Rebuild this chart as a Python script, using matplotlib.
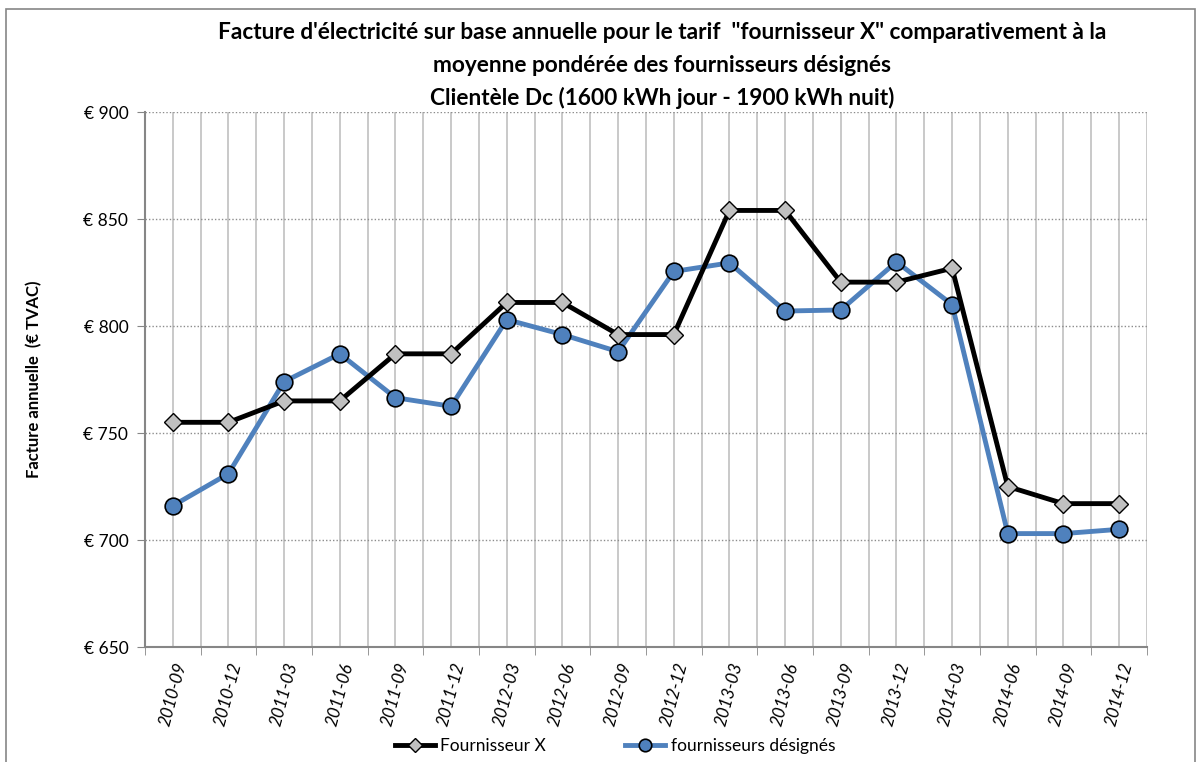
import numpy as np
import matplotlib.pyplot as plt
from matplotlib.patches import Rectangle

periodes = ["2010-09", "2010-12", "2011-03", "2011-06", "2011-09", "2011-12",
            "2012-03", "2012-06", "2012-09", "2012-12", "2013-03", "2013-06",
            "2013-09", "2013-12", "2014-03", "2014-06", "2014-09", "2014-12"]
fournisseur_x = [755, 755, 765, 765, 787, 787, 811, 811, 796, 796,
                 854, 854, 820.5, 820.5, 827, 725, 717, 717]
designes = [716, 731, 774, 787, 766.5, 762.5, 803, 796, 788, 825.5,
            829.5, 807, 807.5, 830, 810, 703, 703, 705]

plt.rcParams["font.family"] = ["Lato", "DejaVu Sans"]

fig = plt.figure(figsize=(12.01, 7.62), dpi=100)
ax = fig.add_axes([0.1207, 0.1509, 0.8343, 0.7021])

x = np.arange(len(periodes))
ax.plot(x, fournisseur_x, color="black", lw=3.5, marker="D", ms=9,
        mfc="#c0c0c0", mec="black", mew=1, label="Fournisseur X", zorder=4)
ax.plot(x, designes, color="#4f81bd", lw=3.5, marker="o", ms=12,
        mfc="#4f81bd", mec="black", mew=1.2, label="fournisseurs désignés", zorder=3)

ax.set_xlim(-0.5, len(periodes) - 0.5)
ax.set_ylim(650, 900)
ax.set_yticks([650, 700, 750, 800, 850, 900])
ax.set_yticklabels(["€ %d" % v for v in [650, 700, 750, 800, 850, 900]], fontsize=12.5)

# vertical grid at categories and boundaries
for v in np.arange(-0.5, len(periodes), 0.5):
    ax.axvline(v, color="#c0c0c0", lw=1.2, zorder=1)
for v in [700, 750, 800, 850, 900]:
    ax.axhline(v, color="#8c8c8c", lw=1, ls=(0, (1, 1.5)), zorder=1)

ax.set_xticks(x)
ax.set_xticklabels(periodes, rotation=75, fontsize=12.3, style="italic",
                   ha="center", va="top")
ax.tick_params(axis="x", length=0, pad=10)
ax.set_xticks(np.arange(-0.5, len(periodes), 1), minor=True)
ax.tick_params(axis="x", which="minor", length=6, color="#868686")
ax.tick_params(axis="y", length=6, color="#868686", pad=6)

for s in ["top", "right"]:
    ax.spines[s].set_visible(False)
for s in ["left", "bottom"]:
    ax.spines[s].set_color("#868686")
    ax.spines[s].set_linewidth(1.5)

ax.set_ylabel("Facture annuelle  (€ TVAC)", fontsize=12, fontweight="bold")
ax.yaxis.set_label_coords(-0.102, 0.5)

fig.text(0.551, 0.958, "Facture d'électricité sur base annuelle pour le tarif  \"fournisseur X\" comparativement à la",
         ha="center", va="center", fontsize=16.3, fontweight="bold")
fig.text(0.551, 0.914, "moyenne pondérée des fournisseurs désignés",
         ha="center", va="center", fontsize=16.3, fontweight="bold")
fig.text(0.551, 0.871, "Clientèle Dc (1600 kWh jour - 1900 kWh nuit)",
         ha="center", va="center", fontsize=16.3, fontweight="bold")

fig.legend(loc="center", bbox_to_anchor=(0.512, 0.021), ncol=2, frameon=False,
           fontsize=12.5, handlelength=2.3, handletextpad=0.3, columnspacing=4.6,
           markerscale=0.75)

fig.patches.append(Rectangle((0.005, -0.01), 0.99, 0.998, transform=fig.transFigure,
                             fill=False, edgecolor="#868686", lw=1.2))

fig.savefig("out.png", dpi=100)
